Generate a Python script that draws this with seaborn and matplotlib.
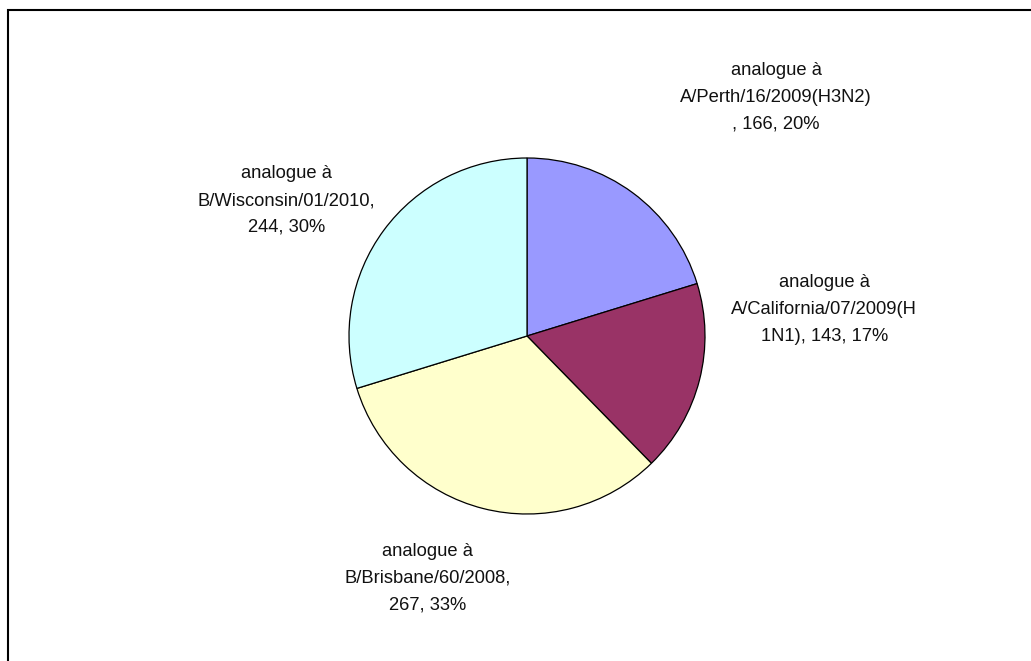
import matplotlib
matplotlib.use("Agg")
import matplotlib.pyplot as plt
from matplotlib.patches import Rectangle
import seaborn as sns

# data
strains = ["A/Perth/16/2009(H3N2)", "A/California/07/2009(H1N1)",
           "B/Brisbane/60/2008", "B/Wisconsin/01/2010"]
counts = [166, 143, 267, 244]
colors = ["#9999FF", "#993366", "#FFFFCC", "#CCFFFF"]

# label text as wrapped in the original
label_fmt = ["analogue à\nA/Perth/16/2009(H3N2)\n, {n}, {p}%",
             "analogue à\nA/California/07/2009(H\n1N1), {n}, {p}%",
             "analogue à\nB/Brisbane/60/2008,\n{n}, {p}%",
             "analogue à\nB/Wisconsin/01/2010,\n{n}, {p}%"]
# label centres, in pie radius units
label_pos = [(1.40, 1.34), (1.67, 0.15), (-0.56, -1.36), (-1.35, 0.76)]

sns.set_theme(style="white")
plt.rcParams["font.family"] = ["Liberation Sans", "DejaVu Sans"]

W, H = 1031, 661
fig = plt.figure(figsize=(W / 100, H / 100), dpi=100)
fig.patch.set_facecolor("white")

# outer chart frame (only left and top edges visible in the crop)
fig.add_artist(Rectangle((8 / W, -0.1), 1.2, (H - 10) / H + 0.1,
                         transform=fig.transFigure, fill=False,
                         edgecolor="black", linewidth=1.5))

cx, cy, r = 527, 336, 178
ax = fig.add_axes([(cx - r) / W, (H - cy - r) / H, 2 * r / W, 2 * r / H])
ax.pie(counts, colors=colors, startangle=90, counterclock=False,
       wedgeprops=dict(edgecolor="black", linewidth=0.9), radius=1)
ax.set_xlim(-1, 1)
ax.set_ylim(-1, 1)
ax.axis("off")

total = sum(counts)
for fmt, n, (x, y) in zip(label_fmt, counts, label_pos):
    p = round(n / total * 100)
    ax.text(x, y, fmt.format(n=n, p=p), ha="center", va="center",
            fontsize=13.2, color="#111111", linespacing=1.75, clip_on=False)

fig.savefig("out.png", dpi=100)
